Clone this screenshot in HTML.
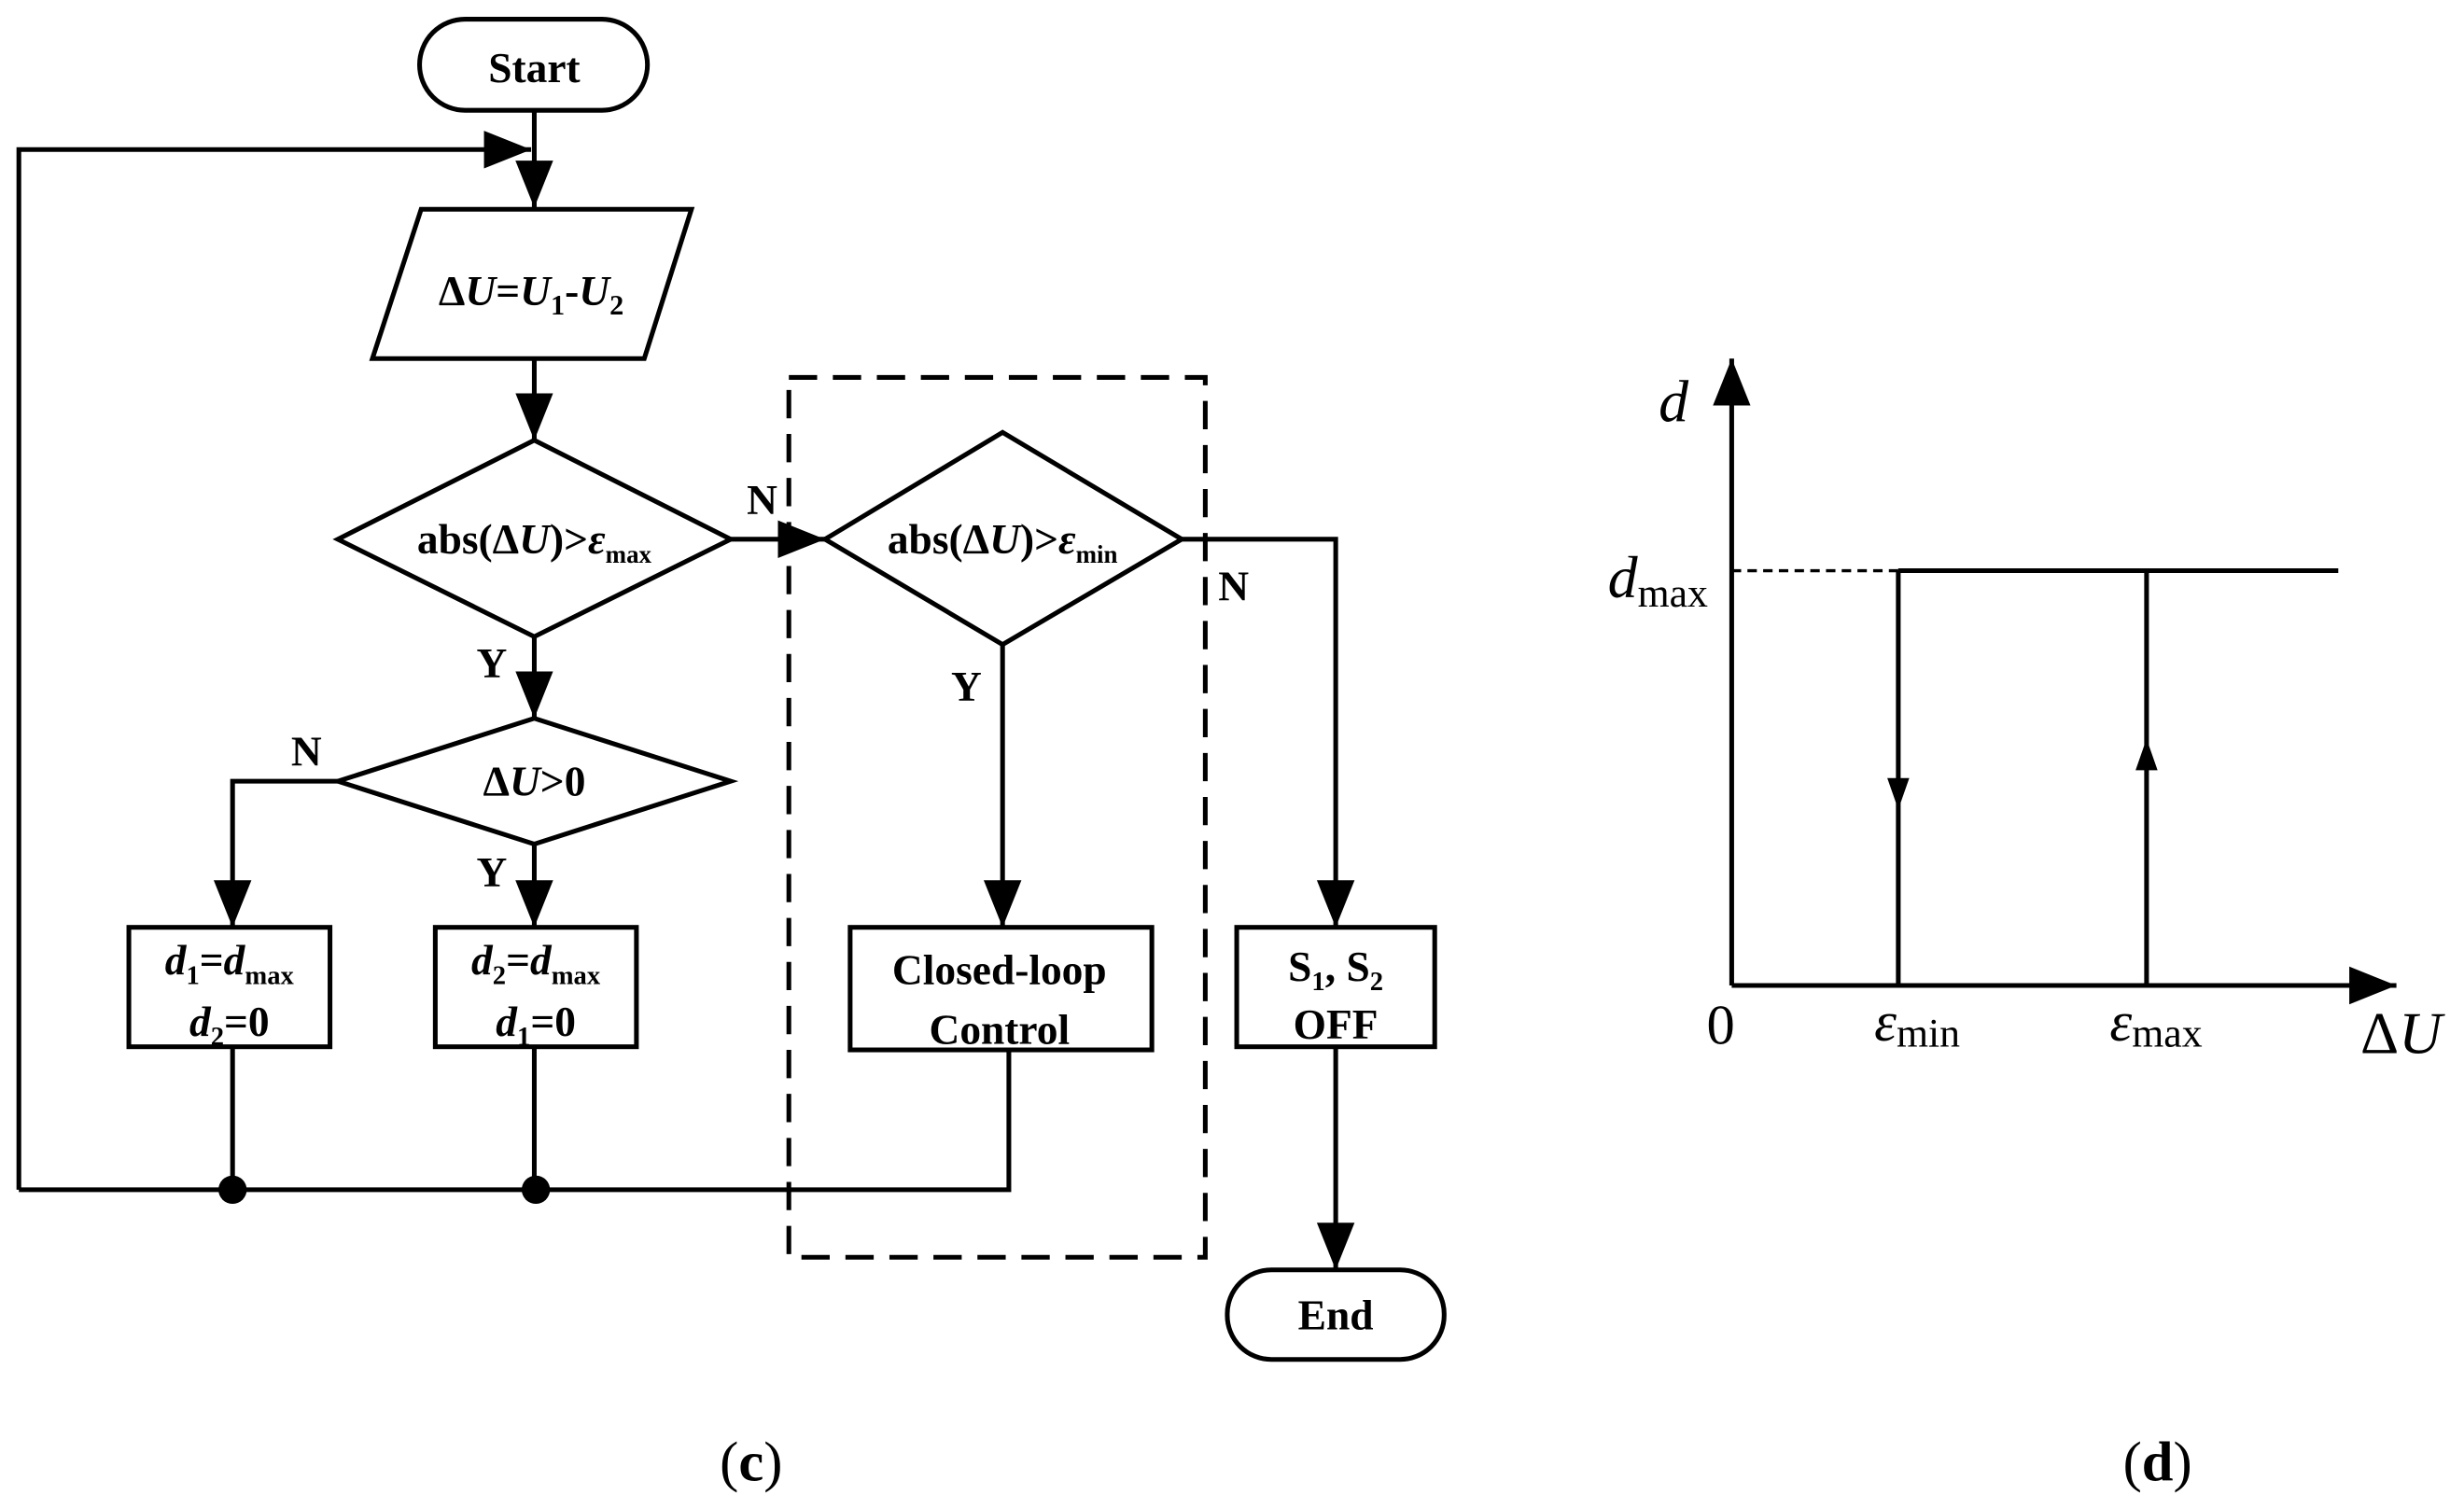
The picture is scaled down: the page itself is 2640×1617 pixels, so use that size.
<!DOCTYPE html>
<html><head><meta charset="utf-8"><style>
html,body{margin:0;padding:0;background:#fff;}
svg{display:block;}
text{font-family:"Liberation Serif",serif;fill:#000;}
.b{font-weight:bold;font-size:27px;}
</style></head><body>
<svg width="2640" height="1617" viewBox="0 0 1568 960" xmlns="http://www.w3.org/2000/svg">
<defs>
<marker id="A" viewBox="0 0 10 10" refX="10" refY="5" markerWidth="30" markerHeight="30" markerUnits="userSpaceOnUse" orient="auto"><path d="M0,1 L10,5 L0,9 z"/></marker>
</defs>
<g stroke="#000" stroke-width="3" fill="none">
<rect x="267" y="12" width="145" height="58" rx="29"/>
<line x1="340" y1="70" x2="340" y2="132" marker-end="url(#A)"/>
<polyline points="12,757 12,95 338,95" marker-end="url(#A)"/>
<polygon points="268,133 440,133 410,228 237,228"/>
<line x1="340" y1="228" x2="340" y2="280" marker-end="url(#A)"/>
<polygon points="215,343 340,280 465,343 340,405"/>
<line x1="465" y1="343" x2="525" y2="343" marker-end="url(#A)"/>
<polygon points="525,343 638,275 752,343 638,410"/>
<rect x="502" y="240" width="265" height="560" stroke-dasharray="18,10"/>
<polyline points="752,343 850,343 850,590" marker-end="url(#A)"/>
<line x1="638" y1="410" x2="638" y2="590" marker-end="url(#A)"/>
<rect x="541" y="590" width="192" height="78"/>
<rect x="787" y="590" width="126" height="76"/>
<line x1="850" y1="666" x2="850" y2="808" marker-end="url(#A)"/>
<rect x="781" y="808" width="138" height="57" rx="28"/>
<line x1="340" y1="405" x2="340" y2="457" marker-end="url(#A)"/>
<polygon points="215,497 340,457 465,497 340,537"/>
<polyline points="215,497 148,497 148,590" marker-end="url(#A)"/>
<line x1="340" y1="537" x2="340" y2="590" marker-end="url(#A)"/>
<rect x="82" y="590" width="128" height="76"/>
<rect x="277" y="590" width="128" height="76"/>
<polyline points="148,666 148,757"/>
<polyline points="340,666 340,757"/>
<polyline points="642,668 642,757 12,757"/>
<line x1="1102" y1="627" x2="1102" y2="228" marker-end="url(#A)"/>
<line x1="1102" y1="627" x2="1525" y2="627" marker-end="url(#A)"/>
<line x1="1102" y1="363" x2="1208" y2="363" stroke-dasharray="6,4" stroke-width="2"/>
<line x1="1208" y1="363" x2="1488" y2="363"/>
<line x1="1208" y1="363" x2="1208" y2="627"/>
<line x1="1366" y1="363" x2="1366" y2="627"/>
</g>
<circle cx="148" cy="757" r="9"/><circle cx="341" cy="757" r="9"/>
<path d="M1201,495 L1215,495 L1208,515 z"/>
<path d="M1359,490 L1373,490 L1366,470 z"/>
<text class="b" x="340" y="52" text-anchor="middle">Start</text>
<text class="b" x="338" y="194" text-anchor="middle">Δ<tspan font-style="italic">U</tspan>=<tspan font-style="italic">U</tspan><tspan font-size="18" dy="6">1</tspan><tspan dy="-6">-</tspan><tspan font-style="italic">U</tspan><tspan font-size="18" dy="6">2</tspan></text>
<text class="b" x="340" y="352" text-anchor="middle" font-size="25">abs(Δ<tspan font-style="italic">U</tspan>)&gt;<tspan font-style="italic">ε</tspan><tspan font-size="16" dy="6">max</tspan></text>
<text class="b" x="638" y="352" text-anchor="middle" font-size="25">abs(Δ<tspan font-style="italic">U</tspan>)&gt;<tspan font-style="italic">ε</tspan><tspan font-size="16" dy="6">min</tspan></text>
<text class="b" x="340" y="506" text-anchor="middle">Δ<tspan font-style="italic">U</tspan>&gt;0</text>
<text class="b" x="485" y="327" text-anchor="middle">N</text>
<text class="b" x="785" y="382" text-anchor="middle">N</text>
<text class="b" x="195" y="487" text-anchor="middle">N</text>
<text class="b" x="615" y="446" text-anchor="middle">Y</text>
<text class="b" x="313" y="431" text-anchor="middle">Y</text>
<text class="b" x="313" y="564" text-anchor="middle">Y</text>
<text class="b" x="146" y="620" text-anchor="middle"><tspan font-style="italic">d</tspan><tspan font-size="17" dy="6">1</tspan><tspan dy="-6">=</tspan><tspan font-style="italic">d</tspan><tspan font-size="17" dy="6">max</tspan></text>
<text class="b" x="146" y="659" text-anchor="middle"><tspan font-style="italic">d</tspan><tspan font-size="17" dy="6">2</tspan><tspan dy="-6">=0</tspan></text>
<text class="b" x="341" y="620" text-anchor="middle"><tspan font-style="italic">d</tspan><tspan font-size="17" dy="6">2</tspan><tspan dy="-6">=</tspan><tspan font-style="italic">d</tspan><tspan font-size="17" dy="6">max</tspan></text>
<text class="b" x="341" y="659" text-anchor="middle"><tspan font-style="italic">d</tspan><tspan font-size="17" dy="6">1</tspan><tspan dy="-6">=0</tspan></text>
<text class="b" x="636" y="626" text-anchor="middle">Closed-loop</text>
<text class="b" x="636" y="664" text-anchor="middle">Control</text>
<text class="b" x="850" y="624" text-anchor="middle">S<tspan font-size="17" dy="6">1</tspan><tspan dy="-6">, S</tspan><tspan font-size="17" dy="6">2</tspan></text>
<text class="b" x="850" y="661" text-anchor="middle">OFF</text>
<text class="b" x="850" y="846" text-anchor="middle">End</text>
<text x="478" y="942" text-anchor="middle" font-size="36" font-weight="bold"><tspan font-weight="normal">(</tspan>c<tspan font-weight="normal">)</tspan></text>
<text x="1373" y="942" text-anchor="middle" font-size="36" font-weight="bold"><tspan font-weight="normal">(</tspan>d<tspan font-weight="normal">)</tspan></text>
<text x="1065" y="268" text-anchor="middle" font-size="38" font-style="italic">d</text>
<text x="1055" y="380" text-anchor="middle" font-size="38"><tspan font-style="italic">d</tspan><tspan font-size="26" dy="6">max</tspan></text>
<text x="1095" y="664" text-anchor="middle" font-size="36">0</text>
<text x="1220" y="662" text-anchor="middle" font-size="36"><tspan font-style="italic">ε</tspan><tspan font-size="26" dy="4">min</tspan></text>
<text x="1372" y="662" text-anchor="middle" font-size="36"><tspan font-style="italic">ε</tspan><tspan font-size="26" dy="4">max</tspan></text>
<text x="1528" y="670" text-anchor="middle" font-size="38">Δ<tspan font-style="italic">U</tspan></text>
</svg>
</body></html>
